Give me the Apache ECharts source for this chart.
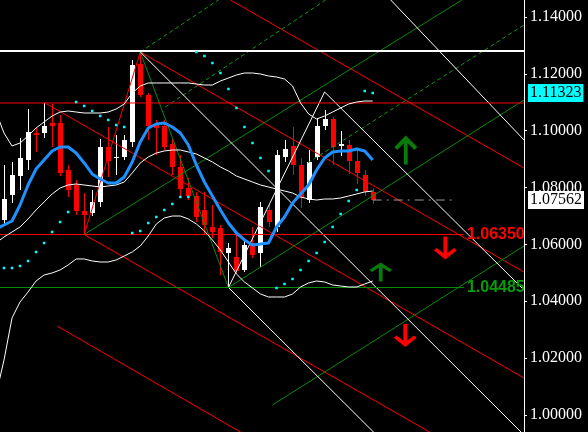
<!DOCTYPE html>
<html><head><meta charset="utf-8">
<script src="https://cdn.jsdelivr.net/npm/echarts@6/dist/echarts.min.js"></script>
<style>html,body{margin:0;padding:0;background:#000}#c{width:588px;height:432px}</style>
</head><body><div id="c"></div>
<script>
// ---- axis ----
const yTicks = [1.00, 1.02, 1.04, 1.06, 1.08, 1.10, 1.12, 1.14];
const yMin = 0.99402, yMax = 1.14598;
const xMin = -0.5, xMax = 64.875;

// ---- candles (bar index 0..46) ----
const openP  = [1.06860,1.07739,1.08407,1.08970,1.09920,1.09920,1.10272,1.10272,1.08618,1.08091,1.07176,1.07106,1.07493,1.09427,1.09041,1.09076,1.09603,1.12347,1.11257,1.10201,1.10166,1.09533,1.08724,1.07985,1.07704,1.07212,1.06614,1.06578,1.05699,1.05558,1.05101,1.06051,1.05699,1.07212,1.06614,1.09076,1.09463,1.08794,1.07563,1.09076,1.10166,1.10412,1.09463,1.09498,1.08935,1.08443,1.07845];
const highP  = [1.08794,1.08900,1.09744,1.10764,1.10096,1.10975,1.10940,1.10553,1.08794,1.08267,1.07809,1.07915,1.09709,1.10131,1.09850,1.09850,1.12488,1.12769,1.11327,1.10377,1.10377,1.09744,1.09146,1.08337,1.07845,1.07845,1.07387,1.06684,1.06051,1.06402,1.06156,1.06614,1.07493,1.07387,1.09322,1.09674,1.10131,1.09041,1.09322,1.10447,1.10729,1.10483,1.09990,1.09674,1.09322,1.08618,1.07985];
const lowP   = [1.06719,1.07458,1.07915,1.08618,1.09252,1.09744,1.09427,1.08407,1.07669,1.07036,1.06350,1.07000,1.07317,1.08372,1.08443,1.08970,1.09427,1.11186,1.09674,1.09146,1.09322,1.08443,1.07669,1.07563,1.06789,1.06332,1.06227,1.04925,1.04485,1.04996,1.05031,1.05523,1.05207,1.06614,1.06438,1.08900,1.08443,1.07282,1.07458,1.08970,1.10025,1.08794,1.09111,1.08478,1.08126,1.07704,1.07423];
const closeP = [1.07598,1.08443,1.09041,1.09955,1.09850,1.10166,1.10166,1.08513,1.07915,1.07176,1.07036,1.07493,1.09427,1.08935,1.09076,1.09674,1.12312,1.11257,1.10166,1.10096,1.09427,1.08724,1.07950,1.07704,1.06965,1.06684,1.06438,1.05734,1.05875,1.05066,1.05980,1.05629,1.07317,1.06789,1.09146,1.09357,1.08794,1.07634,1.08900,1.10166,1.10412,1.09427,1.09533,1.08935,1.08513,1.07845,1.07562];

// ---- indicators (first value = bar -1) ----
const maP = [1.06543,1.06684,1.06825,1.07387,1.08091,1.08654,1.08970,1.09287,1.09427,1.09427,1.09216,1.08865,1.08478,1.08302,1.08161,1.08161,1.08372,1.08900,1.09603,1.10096,1.10236,1.10272,1.10131,1.09920,1.09498,1.08794,1.08196,1.07704,1.07212,1.06754,1.06402,1.06156,1.05980,1.06015,1.06051,1.06614,1.06965,1.07458,1.07774,1.08091,1.08618,1.09041,1.09252,1.09287,1.09287,1.09357,1.09287,1.08970];
const bbUpper = [1.10658,1.09920,1.09463,1.09568,1.09814,1.10096,1.10307,1.10518,1.10658,1.10694,1.10658,1.10623,1.10623,1.10623,1.10658,1.10764,1.10940,1.11327,1.11573,1.11679,1.11679,1.11679,1.11679,1.11679,1.11679,1.11643,1.11608,1.11608,1.11749,1.11854,1.11960,1.12030,1.12030,1.11995,1.11925,1.11890,1.11819,1.11573,1.10975,1.10588,1.10412,1.10518,1.10658,1.10799,1.10940,1.11010,1.11045,1.11045];
const bbMid = [1.06051,1.06262,1.06438,1.06614,1.06895,1.07212,1.07493,1.07774,1.07985,1.08091,1.08126,1.08091,1.08056,1.08021,1.08056,1.08091,1.08196,1.08513,1.08865,1.09076,1.09216,1.09287,1.09322,1.09322,1.09252,1.09181,1.09041,1.08900,1.08724,1.08583,1.08407,1.08302,1.08196,1.08091,1.08021,1.07950,1.07880,1.07809,1.07669,1.07598,1.07563,1.07598,1.07598,1.07634,1.07704,1.07774,1.07845,1.07880];
const bbLower = [1.00704,1.01935,1.03413,1.03976,1.04327,1.04714,1.04925,1.04996,1.05101,1.05277,1.05488,1.05488,1.05418,1.05382,1.05382,1.05453,1.05594,1.05734,1.05945,1.06297,1.06719,1.06930,1.07000,1.07000,1.06895,1.06719,1.06473,1.06156,1.05805,1.05382,1.04960,1.04679,1.04468,1.04257,1.04151,1.04151,1.04151,1.04257,1.04503,1.04644,1.04714,1.04679,1.04573,1.04538,1.04503,1.04503,1.04609,1.04714];
// parabolic SAR (bar 0..46)
const sarP = [1.05171,1.05171,1.05242,1.05418,1.05734,1.06051,1.06438,1.06789,1.07141,1.11010,1.10870,1.10694,1.10518,1.10377,1.10201,1.10131,1.06402,1.06473,1.06754,1.06965,1.07212,1.07423,1.07669,1.07669,1.12769,1.12628,1.12382,1.12030,1.11468,1.10799,1.10131,1.09568,1.09041,1.08583,1.04468,1.04609,1.04785,1.05101,1.05418,1.05699,1.06086,1.06614,1.07071,1.07528,1.07915,1.11397,1.11327];

// ---- drawn objects: [bar1, price1, bar2, price2] ----
const redLines = [
  [28.25, 1.14598, 64.875, 1.08689],
  [17, 1.12769, 64.875, 1.05031],
  [5.125, 1.10975, 64.875, 1.01302],
  [10, 1.06350, 64.875, 0.97503],
  [6.625, 1.03131, 64.875, 0.93634],
  [10, 1.06350, 17, 1.12769]
];
const greenLines = [
  [10, 1.06350, 57.125, 1.14598],
  [28, 1.04485, 64.875, 1.11081],
  [33.5, 1.00353, 64.875, 1.05945],
  [17, 1.12769, 28, 1.04485]
];
const greenDashLines = [
  [17, 1.12769, 26.75, 1.14598],
  [20.125, 1.10834, 40.125, 1.14598],
  [37.875, 1.08865, 64.875, 1.13719]
];
const whiteLines = [
  [17, 1.12769, 64.5, 0.99403],
  [28, 1.04485, 64.875, 0.94127],
  [28, 1.04485, 40, 1.11362],
  [40, 1.11362, 64.875, 1.04398],
  [48.25, 1.14598, 64.875, 1.09674]
];
// horizontal levels
const topLevel = 1.12804;
const redLevel = 1.10975;
const resLevel = 1.06350;
const supLevel = 1.04485;
const levelEnd = 57.375;
const lastPrice = 1.07562;
const lastPriceStart = 46;
const lastPriceEnd = 56.125;
const markPrice = 1.11323;
// arrows [bar, price]
const upArrows = [[50.125, 1.09322], [47, 1.05031]];
const downArrows = [[55.06, 1.05875], [50.06, 1.02797]];

const UP = 'path://M12 0 L24 12 L21 15 L14 8 L14 30 L10 30 L10 8 L3 15 L0 12 Z';
const DOWN = 'path://M12 30 L24 18 L21 15 L14 22 L14 0 L10 0 L10 22 L3 15 L0 18 Z';

const series = [];
series.push({
  type: 'custom', z: 2, silent: true,
  data: openP.map((o, i) => [i, o, highP[i], lowP[i], closeP[i]]),
  encode: { x: 0, y: [1, 2, 3, 4] },
  renderItem: function (params, api) {
    const x = api.value(0), o = api.value(1), h = api.value(2), l = api.value(3), c = api.value(4);
    const pO = api.coord([x, o]), pC = api.coord([x, c]), pH = api.coord([x, h]), pL = api.coord([x, l]);
    const col = c >= o ? '#ffffff' : '#ff0000';
    const top = Math.min(pO[1], pC[1]);
    const hgt = Math.max(1, Math.abs(pO[1] - pC[1]));
    const cx = Math.round(pO[0]);
    return { type: 'group', children: [
      { type: 'line', shape: { x1: cx + 0.5, y1: pH[1], x2: cx + 0.5, y2: pL[1] }, style: { stroke: col, lineWidth: 1 } },
      { type: 'rect', shape: { x: cx - 2, y: Math.round(top), width: 5, height: Math.round(hgt) || 1 }, style: { fill: col } }
    ]};
  }
});
function seg(arr, color, type, width) {
  arr.forEach(s => series.push({
    type: 'line', silent: true, z: 3, symbol: 'none', clip: true,
    data: [[s[0], s[1]], [s[2], s[3]]],
    lineStyle: { color: color, width: width || 1, type: type || 'solid' }
  }));
}
seg(redLines, '#ff0000');
seg(greenLines, '#0a8a0a');
seg(greenDashLines, '#159a15', [4, 3]);
seg(whiteLines, '#ffffff');

function ind(arr, color, width) {
  series.push({ type: 'line', silent: true, z: 4, symbol: 'none', clip: true,
    data: arr.map((v, k) => [k - 1, v]), lineStyle: { color: color, width: width } });
}
ind(bbUpper, '#ffffff', 1);
ind(bbMid, '#ffffff', 1);
ind(bbLower, '#ffffff', 1);
ind(maP, '#1e90ff', 3);

series.push({ type: 'scatter', silent: true, z: 5, symbol: 'rect', symbolSize: 2.5,
  itemStyle: { color: '#00ffff', opacity: 1 }, data: sarP.map((v, i) => [i, v]) });

// horizontal levels
series.push({ type: 'line', silent: true, z: 3, symbol: 'none', data: [[xMin, topLevel], [xMax, topLevel]], lineStyle: { color: '#ffffff', width: 2 } });
series.push({ type: 'line', silent: true, z: 3, symbol: 'none', data: [[xMin, redLevel], [xMax, redLevel]], lineStyle: { color: '#ff0000', width: 1 } });
series.push({ type: 'line', silent: true, z: 3, symbol: 'none', data: [[xMin, resLevel], [levelEnd, resLevel]], lineStyle: { color: '#ff0000', width: 1 },
  endLabel: { show: true, formatter: resLevel.toFixed(5), color: '#ff0000', fontSize: 16, fontWeight: 'bold', fontFamily: 'Liberation Sans', distance: 3 } });
series.push({ type: 'line', silent: true, z: 3, symbol: 'none', data: [[xMin, supLevel], [levelEnd, supLevel]], lineStyle: { color: '#0a8a0a', width: 1 },
  endLabel: { show: true, formatter: supLevel.toFixed(5), color: '#0a9a0a', fontSize: 16, fontWeight: 'bold', fontFamily: 'Liberation Sans', distance: 3 } });
series.push({ type: 'line', silent: true, z: 3, symbol: 'none', data: [[lastPriceStart, lastPrice], [lastPriceEnd, lastPrice]],
  lineStyle: { color: '#9a9a9a', width: 1, type: [9, 5, 2, 5] } });

// price tags on the axis
function tag(price, bg) {
  series.push({ type: 'scatter', silent: true, z: 10, clip: false, symbol: 'rect', symbolSize: 0.01,
    itemStyle: { color: bg, opacity: 1 },
    data: [[xMax, price]],
    label: { show: true, position: 'right', distance: 4, formatter: price.toFixed(5), opacity: 1,
      backgroundColor: bg, color: '#000000', fontFamily: 'Liberation Serif', fontSize: 16,
      padding: [1, 2, 0, 2], lineHeight: 17 } });
}
tag(markPrice, '#00ffff');
tag(lastPrice, '#ffffff');

series.push({ type: 'scatter', silent: true, z: 6, symbol: UP, symbolSize: [23, 29], itemStyle: { color: '#0a7a0a', opacity: 1 }, data: [upArrows[0]] });
series.push({ type: 'scatter', silent: true, z: 6, symbol: UP, symbolSize: [23, 19], itemStyle: { color: '#0a7a0a', opacity: 1 }, data: [upArrows[1]] });
series.push({ type: 'scatter', silent: true, z: 6, symbol: DOWN, symbolSize: [23, 23], itemStyle: { color: '#ff0000', opacity: 1 }, data: downArrows });

const chart = echarts.init(document.getElementById('c'), null, { renderer: 'canvas' });
chart.setOption({
  animation: false,
  backgroundColor: '#000000',
  grid: { left: 0, right: 64, top: 0, bottom: 0, containLabel: false },
  xAxis: { type: 'value', min: xMin, max: xMax, show: false },
  yAxis: {
    type: 'value', position: 'right', min: yMin, max: yMax, scale: true,
    splitLine: { show: false },
    axisLine: { show: true, onZero: false, lineStyle: { color: '#ffffff', width: 1 } },
    axisTick: { show: true, length: 3, lineStyle: { color: '#ffffff' }, customValues: yTicks },
    axisLabel: { customValues: yTicks, formatter: v => v.toFixed(5), color: '#ffffff', fontFamily: 'Liberation Serif', fontSize: 16, margin: 6 }
  },
  series: series
});
</script>
</body></html>
